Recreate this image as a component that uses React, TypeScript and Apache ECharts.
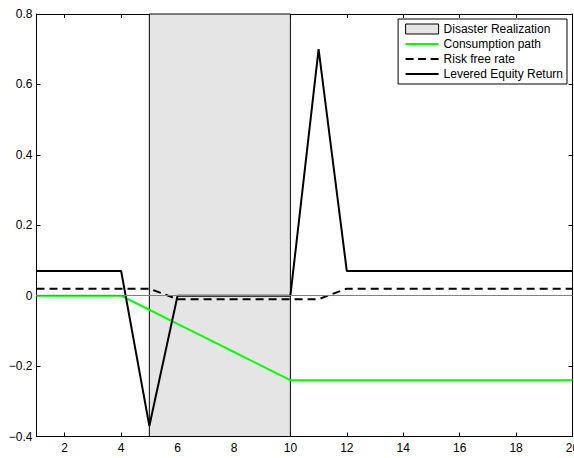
import React, { useEffect, useRef } from "react";
import * as echarts from "echarts";

// Periods and paths around a disaster episode
const periods = [1, 2, 3, 4, 5, 6, 7, 8, 9, 10, 11, 12, 13, 14, 15, 16, 17, 18, 19, 20];
const consumptionPath = [0, 0, 0, 0, -0.04, -0.08, -0.12, -0.16, -0.2, -0.24, -0.24, -0.24, -0.24, -0.24, -0.24, -0.24, -0.24, -0.24, -0.24, -0.24];
const riskFreeRate = [0.02, 0.02, 0.02, 0.02, 0.02, -0.01, -0.01, -0.01, -0.01, -0.01, -0.01, 0.02, 0.02, 0.02, 0.02, 0.02, 0.02, 0.02, 0.02, 0.02];
const leveredEquityReturn = [0.07, 0.07, 0.07, 0.07, -0.37, 0, 0, 0, 0, 0, 0.7, 0.07, 0.07, 0.07, 0.07, 0.07, 0.07, 0.07, 0.07, 0.07];
const disasterWindow = [5, 10];
const xTickValues = [2, 4, 6, 8, 10, 12, 14, 16, 18, 20];

const FONT = "'Liberation Sans', Arial, Helvetica, sans-serif";

// Legend glyphs: a solid bar and a three-dash bar
const SOLID_ICON = "path://M0,0 H33 V2 H0 Z";
const DASH_ICON = "path://M0,0 H8 V2 H0 Z M12.5,0 H20.5 V2 H12.5 Z M25,0 H33 V2 H25 Z";

const pairs = (ys: number[]) => periods.map((x, i) => [x, ys[i]]);

export default function App() {
  const ref = useRef<HTMLDivElement>(null);

  useEffect(() => {
    if (!ref.current) return;
    const chart = echarts.init(ref.current, null, { renderer: "svg" });

    const axisLine = { show: true, onZero: false, lineStyle: { color: "#000", width: 1 } };
    const yFmt = (v: number) => {
      const r = Math.round(v * 10) / 10;
      if (r === 0) return "0";
      return r.toFixed(1).replace("-", "\u2212");
    };

    chart.setOption({
      animation: false,
      textStyle: { fontFamily: FONT },
      grid: {
        left: 36.5,
        right: 1.5,
        top: 14,
        bottom: 21.5,
        containLabel: false,
        outerBoundsMode: "none",
      },
      xAxis: [
        {
          type: "value",
          min: 1,
          max: 20,
          position: "bottom",
          axisLine,
          axisTick: { show: true, inside: true, length: 4, customValues: xTickValues, lineStyle: { color: "#000" } },
          axisLabel: { customValues: xTickValues, color: "#000", fontSize: 12, fontFamily: FONT, margin: 5 },
          splitLine: { show: false },
        },
        {
          type: "value",
          min: 1,
          max: 20,
          position: "top",
          axisLine,
          axisTick: { show: true, inside: true, length: 4, customValues: xTickValues, lineStyle: { color: "#000" } },
          axisLabel: { show: false },
          splitLine: { show: false },
        },
      ],
      yAxis: [
        {
          type: "value",
          min: -0.4,
          max: 0.8,
          interval: 0.2,
          position: "left",
          axisLine,
          axisTick: { show: true, inside: true, length: 4, lineStyle: { color: "#000" } },
          axisLabel: { color: "#000", fontSize: 12, fontFamily: FONT, margin: 4, formatter: yFmt },
          splitLine: { show: false },
        },
        {
          type: "value",
          min: -0.4,
          max: 0.8,
          interval: 0.2,
          position: "right",
          axisLine,
          axisTick: { show: true, inside: true, length: 4, lineStyle: { color: "#000" } },
          axisLabel: { show: false },
          splitLine: { show: false },
        },
      ],
      legend: {
        orient: "vertical",
        right: 7,
        top: 19,
        itemWidth: 33,
        itemHeight: 10,
        itemGap: 3,
        padding: [4, 4, 4, 7],
        borderColor: "#000",
        borderWidth: 1,
        backgroundColor: "#fff",
        textStyle: { color: "#000", fontSize: 12, fontFamily: FONT },
        selectedMode: false,
        data: [
          { name: "Disaster Realization", icon: "rect", itemStyle: { color: "#e5e5e5", borderColor: "#000", borderWidth: 1 } },
          { name: "Consumption path", icon: SOLID_ICON, itemStyle: { color: "#00ff00", borderWidth: 0 } },
          { name: "Risk free rate", icon: DASH_ICON, itemStyle: { color: "#000", borderWidth: 0 } },
          { name: "Levered Equity Return", icon: SOLID_ICON, itemStyle: { color: "#000", borderWidth: 0 } },
        ],
      },
      series: [
        {
          name: "Disaster Realization",
          type: "line",
          z: 1,
          data: [],
          symbol: "none",
          itemStyle: { color: "#e5e5e5", borderColor: "#000", borderWidth: 1 },
          markArea: {
            silent: true,
            itemStyle: { color: "#e5e5e5", borderColor: "#000", borderWidth: 1 },
            label: { show: false },
            data: [[{ xAxis: disasterWindow[0] }, { xAxis: disasterWindow[1] }]],
          },
        },
        {
          name: "Consumption path",
          type: "line",
          z: 2,
          data: pairs(consumptionPath),
          symbol: "none",
          lineStyle: { color: "#00ff00", width: 2 },
          itemStyle: { color: "#00ff00" },
          markLine: {
            silent: true,
            symbol: "none",
            label: { show: false },
            lineStyle: { color: "#808080", width: 1, type: "solid" },
            data: [{ yAxis: 0 }],
          },
        },
        {
          name: "Risk free rate",
          type: "line",
          z: 3,
          data: pairs(riskFreeRate),
          symbol: "none",
          lineStyle: { color: "#000", width: 2, type: [8, 5] },
          itemStyle: { color: "#000" },
        },
        {
          name: "Levered Equity Return",
          type: "line",
          z: 4,
          data: pairs(leveredEquityReturn),
          symbol: "none",
          lineStyle: { color: "#000", width: 2 },
          itemStyle: { color: "#000" },
        },
      ],
    });

    return () => chart.dispose();
  }, []);

  return (
    <div
      ref={ref}
      style={{ position: "absolute", left: 0, top: 0, width: 574, height: 458, background: "#fff" }}
    />
  );
}
